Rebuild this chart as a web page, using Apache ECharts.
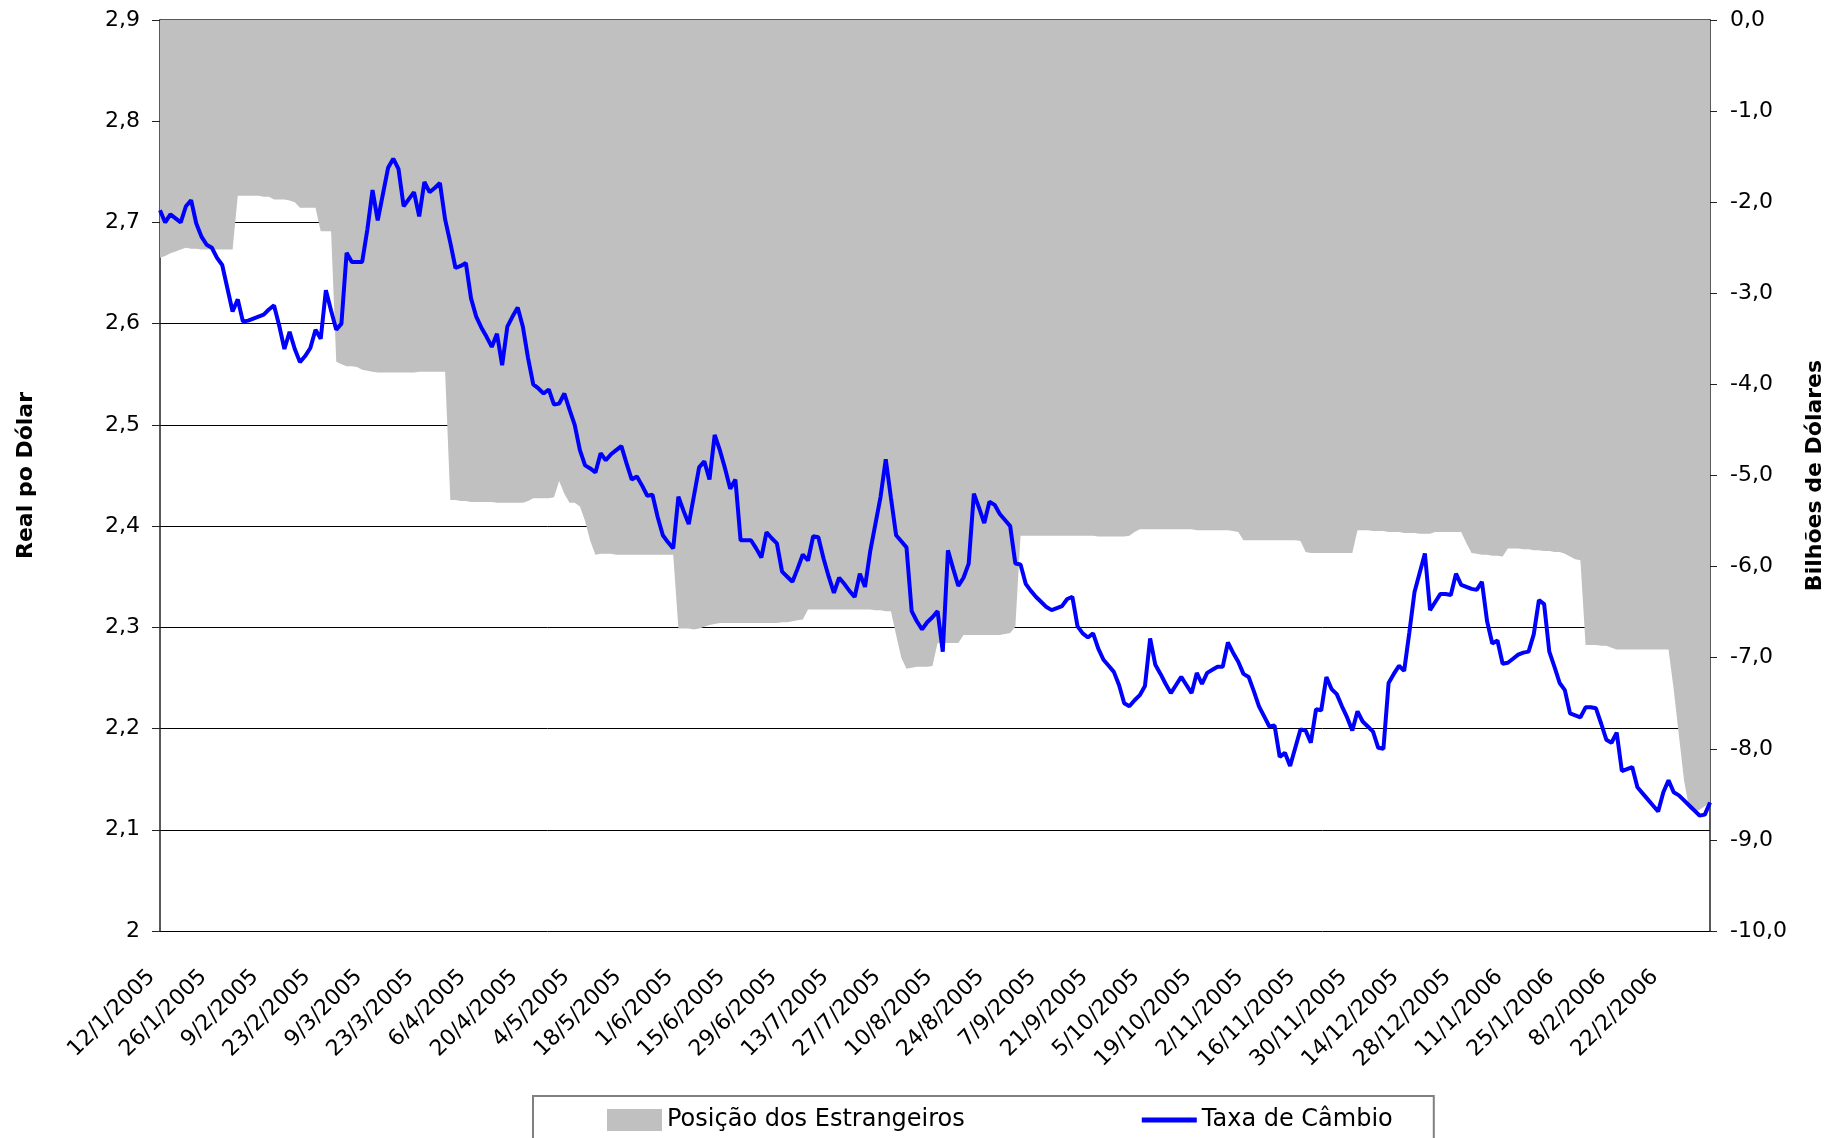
<!DOCTYPE html>
<html>
<head>
<meta charset="utf-8">
<title>Posição dos Estrangeiros x Taxa de Câmbio</title>
<script src="https://cdn.jsdelivr.net/npm/echarts@6/dist/echarts.min.js"></script>
<style>
  html, body { margin: 0; padding: 0; background: #fff; }
  #main { width: 1834px; height: 1138px; }
</style>
</head>
<body>
<div id="main"></div>
<script>
// R$ por US$ (eixo esquerdo), um valor por dia útil a partir de 12/1/2005
var taxaCambio = [
  2.712, 2.700, 2.708, 2.704, 2.700, 2.716, 2.722, 2.699, 2.686, 2.678,
  2.675, 2.665, 2.658, 2.635, 2.612, 2.624, 2.602, 2.603, 2.605, 2.607,
  2.609, 2.614, 2.618, 2.598, 2.575, 2.592, 2.575, 2.562, 2.568, 2.576,
  2.594, 2.585, 2.633, 2.613, 2.594, 2.600, 2.670, 2.661, 2.661, 2.661,
  2.693, 2.732, 2.702, 2.728, 2.754, 2.763, 2.753, 2.716, 2.723, 2.730,
  2.706, 2.740, 2.730, 2.734, 2.739, 2.703, 2.680, 2.655, 2.657, 2.660,
  2.625, 2.607, 2.596, 2.587, 2.577, 2.590, 2.559, 2.597, 2.607, 2.616,
  2.597, 2.566, 2.540, 2.536, 2.531, 2.535, 2.520, 2.521, 2.531, 2.515,
  2.500, 2.475, 2.460, 2.457, 2.453, 2.472, 2.465, 2.471, 2.475, 2.479,
  2.462, 2.446, 2.449, 2.440, 2.430, 2.431, 2.409, 2.391, 2.384, 2.378,
  2.429, 2.415, 2.402, 2.430, 2.458, 2.464, 2.446, 2.490, 2.475, 2.457,
  2.437, 2.446, 2.386, 2.386, 2.386, 2.378, 2.369, 2.394, 2.388, 2.383,
  2.355, 2.350, 2.345, 2.358, 2.372, 2.366, 2.390, 2.389, 2.368, 2.350,
  2.334, 2.349, 2.343, 2.336, 2.330, 2.353, 2.340, 2.375, 2.402, 2.429,
  2.466, 2.428, 2.391, 2.385, 2.379, 2.316, 2.306, 2.298, 2.305, 2.310,
  2.316, 2.276, 2.376, 2.358, 2.341, 2.349, 2.363, 2.432, 2.418, 2.403,
  2.424, 2.421, 2.412, 2.406, 2.400, 2.363, 2.362, 2.343, 2.336, 2.330,
  2.325, 2.320, 2.317, 2.319, 2.321, 2.328, 2.330, 2.301, 2.294, 2.290,
  2.294, 2.279, 2.268, 2.262, 2.256, 2.243, 2.225, 2.222, 2.228, 2.233,
  2.242, 2.289, 2.263, 2.254, 2.244, 2.235, 2.243, 2.251, 2.243, 2.235,
  2.255, 2.244, 2.255, 2.258, 2.261, 2.261, 2.285, 2.275, 2.266, 2.254,
  2.251, 2.237, 2.222, 2.212, 2.202, 2.203, 2.172, 2.176, 2.163, 2.181,
  2.199, 2.198, 2.186, 2.219, 2.218, 2.251, 2.239, 2.234, 2.222, 2.211,
  2.198, 2.217, 2.207, 2.202, 2.197, 2.181, 2.180, 2.245, 2.254, 2.262,
  2.257, 2.295, 2.335, 2.354, 2.373, 2.317, 2.325, 2.333, 2.333, 2.332,
  2.353, 2.342, 2.340, 2.338, 2.337, 2.345, 2.306, 2.284, 2.287, 2.264,
  2.265, 2.269, 2.273, 2.275, 2.276, 2.293, 2.327, 2.323, 2.276, 2.261,
  2.245, 2.238, 2.215, 2.213, 2.211, 2.221, 2.221, 2.220, 2.205, 2.189,
  2.186, 2.196, 2.158, 2.160, 2.162, 2.142, 2.136, 2.130, 2.124, 2.118,
  2.137, 2.149, 2.137, 2.134, 2.129, 2.124, 2.119, 2.114, 2.115, 2.127
];

// bilhões de US$ (eixo direito)
var posicaoEstrangeiros = [
  -2.61, -2.59, -2.56, -2.54, -2.52, -2.50, -2.51, -2.51, -2.52, -2.52,
  -2.52, -2.52, -2.52, -2.52, -2.52, -1.93, -1.93, -1.93, -1.93, -1.93,
  -1.94, -1.94, -1.97, -1.97, -1.97, -1.98, -2.00, -2.06, -2.06, -2.06,
  -2.06, -2.32, -2.32, -2.32, -3.75, -3.78, -3.80, -3.80, -3.81, -3.84,
  -3.85, -3.86, -3.87, -3.87, -3.87, -3.87, -3.87, -3.87, -3.87, -3.87,
  -3.86, -3.86, -3.86, -3.86, -3.86, -3.86, -5.27, -5.27, -5.28, -5.28,
  -5.29, -5.29, -5.29, -5.29, -5.29, -5.30, -5.30, -5.30, -5.30, -5.30,
  -5.30, -5.28, -5.25, -5.25, -5.25, -5.25, -5.24, -5.06, -5.20, -5.30,
  -5.30, -5.34, -5.50, -5.72, -5.87, -5.86, -5.86, -5.86, -5.87, -5.87,
  -5.87, -5.87, -5.87, -5.87, -5.87, -5.87, -5.87, -5.87, -5.87, -5.87,
  -6.68, -6.68, -6.68, -6.69, -6.68, -6.66, -6.64, -6.63, -6.62, -6.62,
  -6.62, -6.62, -6.62, -6.62, -6.62, -6.62, -6.62, -6.62, -6.62, -6.62,
  -6.61, -6.61, -6.60, -6.59, -6.58, -6.47, -6.47, -6.47, -6.47, -6.47,
  -6.47, -6.47, -6.47, -6.47, -6.47, -6.47, -6.47, -6.47, -6.48, -6.48,
  -6.49, -6.49, -6.75, -7.00, -7.12, -7.11, -7.10, -7.10, -7.10, -7.09,
  -6.84, -6.84, -6.84, -6.84, -6.84, -6.75, -6.75, -6.75, -6.75, -6.75,
  -6.75, -6.75, -6.75, -6.74, -6.73, -6.66, -5.66, -5.66, -5.66, -5.66,
  -5.66, -5.66, -5.66, -5.66, -5.66, -5.66, -5.66, -5.66, -5.66, -5.66,
  -5.66, -5.67, -5.67, -5.67, -5.67, -5.67, -5.67, -5.66, -5.62, -5.59,
  -5.59, -5.59, -5.59, -5.59, -5.59, -5.59, -5.59, -5.59, -5.59, -5.59,
  -5.60, -5.60, -5.60, -5.60, -5.60, -5.60, -5.60, -5.61, -5.62, -5.71,
  -5.71, -5.71, -5.71, -5.71, -5.71, -5.71, -5.71, -5.71, -5.71, -5.71,
  -5.72, -5.84, -5.85, -5.85, -5.85, -5.85, -5.85, -5.85, -5.85, -5.85,
  -5.85, -5.60, -5.60, -5.60, -5.61, -5.61, -5.61, -5.62, -5.62, -5.62,
  -5.63, -5.63, -5.63, -5.64, -5.64, -5.64, -5.62, -5.62, -5.62, -5.62,
  -5.62, -5.62, -5.74, -5.85, -5.86, -5.87, -5.87, -5.88, -5.88, -5.89,
  -5.80, -5.80, -5.80, -5.81, -5.81, -5.82, -5.82, -5.83, -5.83, -5.84,
  -5.84, -5.86, -5.89, -5.92, -5.93, -6.86, -6.86, -6.86, -6.87, -6.87,
  -6.89, -6.91, -6.91, -6.91, -6.91, -6.91, -6.91, -6.91, -6.91, -6.91,
  -6.91, -6.91, -7.35, -7.85, -8.35, -8.66, -8.69, -8.67, -8.63, -8.58
];

// dias úteis a partir de 12/1/2005 (rótulo a cada 10 dias úteis)
var dataInicial = new Date(2005, 0, 12);
var datas = [];
var d = new Date(dataInicial.getTime());
while (datas.length < taxaCambio.length) {
  if (d.getDay() !== 0 && d.getDay() !== 6) {
    datas.push(d.getDate() + '/' + (d.getMonth() + 1) + '/' + d.getFullYear());
  }
  d.setDate(d.getDate() + 1);
}

var fonte = 'DejaVu Sans';
var corEixo = '#222';

var myChart = echarts.init(document.getElementById('main'));

var option = {
  animation: false,
  backgroundColor: '#fff',
  grid: { left: 160, right: 123, top: 20, bottom: 207 },
  legend: {
    left: 533,
    top: 1096,
    padding: [12, 41, 40, 74],
    itemGap: 177,
    itemWidth: 55,
    itemHeight: 22,
    borderColor: '#808080',
    borderWidth: 2,
    textStyle: { fontFamily: fonte, fontSize: 24, color: '#000' },
    data: [
      { name: 'Posição dos Estrangeiros', icon: 'rect' },
      // linha grossa centrada numa caixa 55x22
      { name: 'Taxa de Câmbio', icon: 'path://M0,0 M55,22 M0,8.5 L55,8.5 L55,13.5 L0,13.5 Z' }
    ]
  },
  xAxis: {
    type: 'category',
    data: datas,
    boundaryGap: false,
    axisLine: { lineStyle: { color: corEixo, width: 1.5 } },
    axisTick: { interval: 9, length: 8, lineStyle: { color: corEixo } },
    axisLabel: {
      interval: 9,
      rotate: 45,
      margin: 34,
      padding: [0, 12, 0, 0],
      fontFamily: fonte,
      fontSize: 22,
      color: '#000'
    },
    splitLine: { show: false }
  },
  yAxis: [
    {
      type: 'value',
      position: 'left',
      min: 2,
      max: 2.9,
      interval: 0.1,
      name: 'Real po Dólar',
      nameLocation: 'middle',
      nameRotate: 90,
      nameGap: 123,
      nameTextStyle: { fontFamily: fonte, fontSize: 22, fontWeight: 'bold', color: '#000' },
      axisLine: { show: true, lineStyle: { color: corEixo, width: 1.5 } },
      axisTick: { show: true, length: 8, lineStyle: { color: corEixo } },
      axisLabel: {
        margin: 20,
        fontFamily: fonte,
        fontSize: 22,
        color: '#000',
        formatter: function (v) {
          return String(Math.round(v * 10) / 10).replace('.', ',');
        }
      },
      splitLine: { show: true, lineStyle: { color: '#000', width: 1 } }
    },
    {
      type: 'value',
      position: 'right',
      min: -10,
      max: 0,
      interval: 1,
      name: 'Bilhões de Dólares',
      nameLocation: 'middle',
      nameRotate: 90,
      nameGap: 94,
      nameTextStyle: { fontFamily: fonte, fontSize: 22, fontWeight: 'bold', color: '#000' },
      axisLine: { show: true, lineStyle: { color: corEixo, width: 1.5 } },
      axisTick: { show: true, length: 7, lineStyle: { color: corEixo } },
      axisLabel: {
        margin: 20,
        fontFamily: fonte,
        fontSize: 22,
        color: '#000',
        formatter: function (v) {
          return v.toFixed(1).replace('.', ',');
        }
      },
      splitLine: { show: false }
    }
  ],
  series: [
    {
      name: 'Posição dos Estrangeiros',
      type: 'line',
      yAxisIndex: 1,
      data: posicaoEstrangeiros,
      symbol: 'none',
      lineStyle: { width: 0, color: '#C0C0C0' },
      itemStyle: { color: '#C0C0C0' },
      areaStyle: { color: '#C0C0C0', opacity: 1 },
      silent: true
    },
    {
      name: 'Taxa de Câmbio',
      type: 'line',
      yAxisIndex: 0,
      data: taxaCambio,
      symbol: 'none',
      lineStyle: { color: '#0000FF', width: 4 },
      itemStyle: { color: '#0000FF' }
    }
  ]
};

myChart.setOption(option);
</script>
</body>
</html>
